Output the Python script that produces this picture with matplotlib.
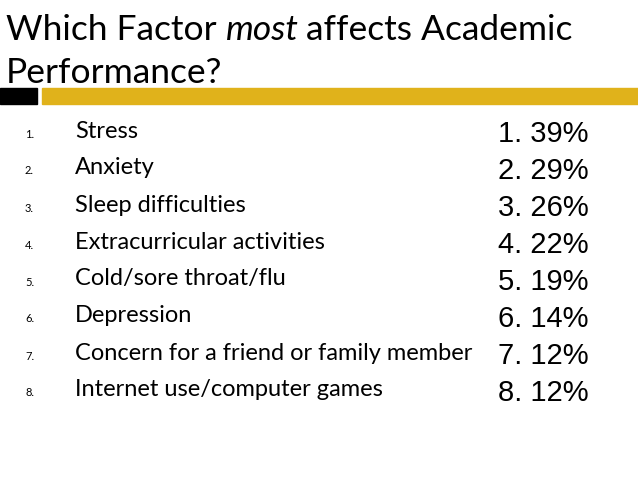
import matplotlib
matplotlib.use("Agg")
import matplotlib.pyplot as plt
from matplotlib.patches import Rectangle

factors = ["Stress", "Anxiety", "Sleep difficulties", "Extracurricular activities",
           "Cold/sore throat/flu", "Depression",
           "Concern for a friend or family member", "Internet use/computer games"]
percents = [39, 29, 26, 22, 19, 14, 12, 12]

W, H = 638, 479
fig = plt.figure(figsize=(W/100, H/100), dpi=100)
ax = fig.add_axes([0, 0, 1, 1])
ax.set_xlim(0, W); ax.set_ylim(H, 0); ax.axis("off")

TS = 25.5
t1 = ax.text(6, 30, "Which Factor ", fontsize=TS, family="Lato", va="center", ha="left")
fig.canvas.draw()
r = fig.canvas.get_renderer()
inv = ax.transData.inverted()
x2 = inv.transform((t1.get_window_extent(r).x1, 0))[0]
t2 = ax.text(x2, 30, "most", fontsize=TS, family="Lato", style="italic", va="center")
fig.canvas.draw()
x3 = inv.transform((t2.get_window_extent(r).x1, 0))[0]
ax.text(x3 + 7, 30, "affects Academic", fontsize=TS, family="Lato", va="center")
ax.text(6, 73, "Performance?", fontsize=TS, family="Lato", va="center")

ax.add_patch(Rectangle((0, 88), 37, 16, color="black"))
ax.add_patch(Rectangle((42, 88), W-42, 16, color="#E0B21B"))

for i, (f, p) in enumerate(zip(factors, percents)):
    y = 131 + 37*i
    ax.text(25, y+3, f"{i+1}.", fontsize=8, family="Lato", va="center")
    ax.text(75, y, f, fontsize=17, family="Lato", va="center")
    ax.text(498, y+3, f"{i+1}. {p}%", fontsize=21, family="Liberation Sans", va="center")

fig.savefig("out.png", dpi=100)
